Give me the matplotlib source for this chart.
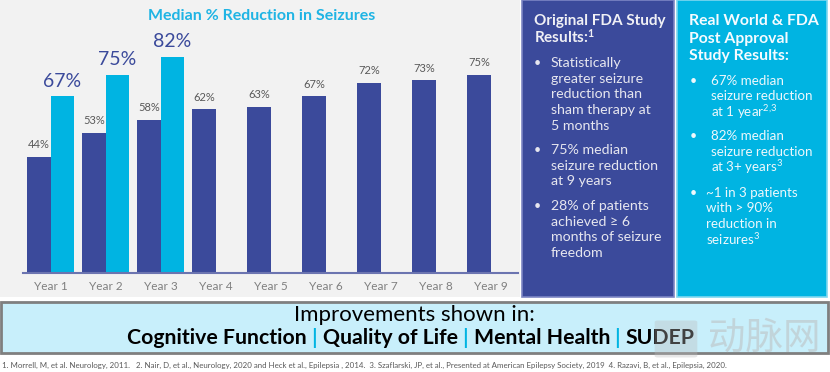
import matplotlib
matplotlib.use("Agg")
import matplotlib.pyplot as plt
from matplotlib.patches import Rectangle, FancyBboxPatch
import numpy as np

# Data
years = ["Year 1", "Year 2", "Year 3", "Year 4", "Year 5",
         "Year 6", "Year 7", "Year 8", "Year 9"]
fda_study = [44, 53, 58, 62, 63, 67, 72, 73, 75]
real_world = [67, 75, 82]

fda_bullets = [
    ["Statistically", "greater seizure", "reduction than", "sham therapy at", "5 months"],
    ["75% median", "seizure reduction", "at 9 years"],
    ["28% of patients", "achieved \u2265 6", "months of seizure", "freedom"],
]
rw_bullets = [
    ["67% median", "seizure reduction", "at 1 year$^{2{,}3}$"],
    ["82% median", "seizure reduction", "at 3+ years$^{3}$"],
    ["~1 in 3 patients", "with > 90%", "reduction in", "seizures$^{3}$"],
]
improvements = ["Cognitive Function", "Quality of Life", "Mental Health", "SUDEP"]
footnote = ("1. Morrell, M, et al. Neurology, 2011.   2. Nair, D, et al., Neurology, 2020 and Heck et al., "
            "Epilepsia , 2014.  3. Szaflarski, JP, et al., Presented at American Epilepsy Society, 2019  "
            "4. Razavi, B, et al., Epilepsia, 2020.")

DARK = "#3b4a9b"
CYAN = "#00b4e2"
W, H = 830, 372

plt.rcParams["font.family"] = ["Lato", "DejaVu Sans"]
plt.rcParams["mathtext.default"] = "regular"

fig = plt.figure(figsize=(W / 100, H / 100), dpi=100)
fig.patch.set_facecolor("white")


def fx(x):
    return x / W


def fy(y):
    return 1 - y / H


def box(x0, y0, x1, y1, **kw):
    fig.patches.append(Rectangle((fx(x0), fy(y1)), fx(x1) - fx(x0), fy(y0) - fy(y1),
                                 transform=fig.transFigure, zorder=-1, **kw))


# backgrounds
box(0, 0, 520, 297, facecolor="#f2f2f2", edgecolor="none")
box(522, 0, 674, 297, facecolor=DARK, edgecolor="#7d86c4", linewidth=1.2)
box(677, 0, 827, 297, facecolor=CYAN, edgecolor="#7fd8f0", linewidth=1.2)
box(1, 302, 828, 353, facecolor="#c8effb", edgecolor="#7f7f7f", linewidth=2)

# bar chart
ax = fig.add_axes([fx(23), fy(273), fx(518) - fx(23), fy(9) - fy(273)])
ax.set_zorder(1)
ax.set_facecolor("none")
x = np.arange(len(years))
bw = 0.42
ax.bar(x, fda_study, width=-bw, align="edge", color=DARK, zorder=2)
ax.bar(x[:len(real_world)], real_world, width=bw, align="edge", color=CYAN, zorder=2)
for xi, v in zip(x, fda_study):
    ax.text(xi - bw / 2, v + 2.5, f"{v}%", ha="center", va="bottom",
            fontsize=8, color="#595959")
for xi, v in zip(x, real_world):
    ax.text(xi + bw / 2, v + 2.5, f"{v}%", ha="center", va="bottom",
            fontsize=14, color=DARK)
ax.set_xlim(-0.5, 8.5)
ax.set_ylim(0, 100)
ax.set_xticks(x)
ax.set_xticklabels(years, fontsize=8.5, color="#7f7f7f")
ax.tick_params(axis="x", length=0, pad=6)
ax.set_yticks([])
for s in ["top", "right", "left"]:
    ax.spines[s].set_visible(False)
ax.spines["bottom"].set_color("#6b74b0")
ax.spines["bottom"].set_linewidth(1.5)

fig.text(fx(262), fy(16), "Median % Reduction in Seizures", ha="center", va="center",
         fontsize=11.5, fontweight="bold", color="#1fb4e4")

# dark panel
fig.text(fx(534), fy(21), "Original FDA Study", ha="left", va="center",
         fontsize=11, fontweight="bold", color="#f0f0f5")
fig.text(fx(534), fy(37), "Results:$^{1}$", ha="left", va="center",
         fontsize=11, fontweight="bold", color="#f0f0f5")
ys = [63, 150, 206]
for y0, lines in zip(ys, fda_bullets):
    fig.text(fx(537), fy(y0), "\u2022", ha="center", va="center", fontsize=9, color="#e6e6ef")
    for i, ln in enumerate(lines):
        fig.text(fx(551), fy(y0 + i * 15.7), ln, ha="left", va="center",
                 fontsize=10.2, color="#e6e6ef")

# cyan panel
for i, ln in enumerate(["Real World & FDA", "Post Approval", "Study Results:"]):
    fig.text(fx(689), fy(21 + i * 17.5), ln, ha="left", va="center",
             fontsize=11.3, fontweight="bold", color="#f5fbff")
ys = [81, 136, 193]
tx = [711, 711, 706]
for y0, x0, lines in zip(ys, tx, rw_bullets):
    fig.text(fx(693), fy(y0), "\u2022", ha="center", va="center", fontsize=9, color="#eef8fc")
    for i, ln in enumerate(lines):
        fig.text(fx(x0), fy(y0 + i * 15.5), ln, ha="left", va="center",
                 fontsize=9.6, color="#eef8fc")

# bottom box
fig.text(fx(414), fy(315), "Improvements shown in:", ha="center", va="center",
         fontsize=16, color="black")
pieces = []
for i, name in enumerate(improvements):
    if i:
        pieces.append((" | ", CYAN))
    pieces.append((name, "black"))
renderer = fig.canvas.get_renderer()
widths = []
for t, c in pieces:
    tt = fig.text(0, 0, t, fontsize=15.3, fontweight="bold")
    widths.append(tt.get_window_extent(renderer).width)
    tt.remove()
cur = 411 - sum(widths) / 2
for (t, c), w in zip(pieces, widths):
    fig.text(fx(cur), fy(338), t, ha="left", va="center", fontsize=15.3,
             fontweight="bold", color=c)
    cur += w

fig.text(fx(2), fy(365), footnote, ha="left", va="center", fontsize=5.65, color="#595959")

# watermark
fig.patches.append(FancyBboxPatch((fx(658), fy(356)), fx(36), fy(322) - fy(356),
                                  boxstyle="round,pad=0.004", transform=fig.transFigure,
                                  facecolor="#bbbbbb", edgecolor="none", alpha=0.35, zorder=5))
fig.text(fx(764), fy(338), "动脉网", ha="center", va="center", fontsize=27,
         color="#bbbbbb", alpha=0.5, family=["Noto Sans CJK SC", "DejaVu Sans"], zorder=6)

fig.savefig("out.png", dpi=100)
